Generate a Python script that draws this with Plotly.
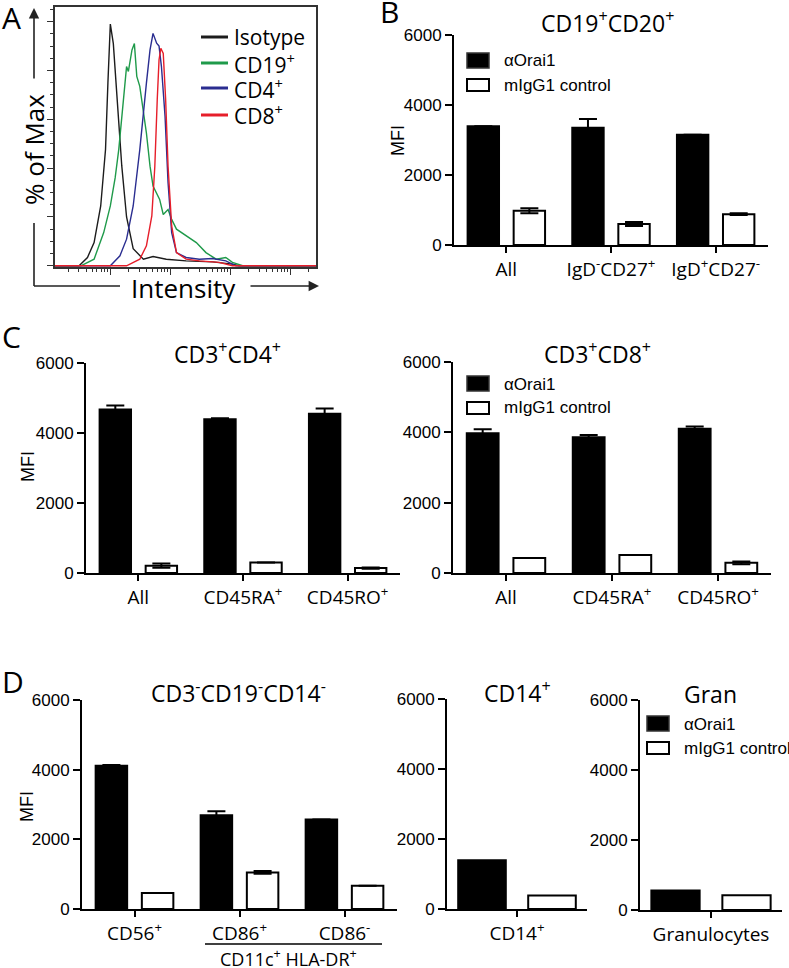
import numpy as np
import plotly.graph_objects as go

W, H = 789, 968
TITLE_FONT = 'Open Sans'
NUM_FONT = 'Liberation Sans'

# ---- panel A: histogram (x in log10 intensity, y in % of max) ----
iso_x = [1.08, 1.48, 1.62, 1.73, 1.84, 1.92, 1.96, 2.0, 2.05, 2.11, 2.19, 2.27, 2.38, 2.55, 2.71, 2.93, 3.26, 3.70, 4.03, 4.14, 5.42]
iso_y = [0, 0, 3.4, 9.5, 24.5, 47.6, 75, 99, 91, 68, 41, 20, 7, 2.7, 3.8, 2.7, 2.0, 1.6, 0.7, 0, 0]
cd19_x = [1.08, 1.51, 1.73, 1.89, 2.0, 2.08, 2.14, 2.22, 2.27, 2.30, 2.36, 2.40, 2.44, 2.49, 2.55, 2.60, 2.66, 2.71, 2.82, 2.88, 2.96, 3.02, 3.10, 3.26, 3.43, 3.59, 3.76, 3.92, 4.03, 4.20, 5.42]
cd19_y = [0, 0, 2.7, 13.6, 24.5, 36, 47.6, 68, 81.6, 79.6, 88.4, 91, 77.6, 73.5, 64, 54.4, 40.8, 32.7, 27.2, 21, 23, 19, 15, 12.2, 9.5, 5.4, 2.7, 3.4, 1.4, 0, 0]
cd4_x = [1.08, 2.0, 2.16, 2.27, 2.38, 2.49, 2.60, 2.66, 2.71, 2.77, 2.81, 2.85, 2.91, 2.96, 3.02, 3.10, 3.26, 3.48, 3.70, 3.92, 4.09, 5.42]
cd4_y = [0, 0, 4.1, 10.9, 24.5, 47.6, 74.8, 88.4, 95.2, 91.2, 90, 81.6, 61.2, 34, 13.6, 5.4, 3.4, 2.7, 3.0, 2.0, 0, 0]
cd8_x = [1.08, 2.27, 2.49, 2.60, 2.69, 2.74, 2.78, 2.81, 2.84, 2.88, 2.92, 2.96, 3.02, 3.10, 3.26, 3.48, 3.81, 4.03, 5.42]
cd8_y = [0, 0, 2.7, 8.2, 20.4, 40.8, 68, 84.4, 89.1, 87, 68, 40.8, 16.3, 5.4, 2.7, 2.0, 1.4, 0, 0]

# ---- panel B ----
b_cats = ['All', 'IgD<sup>-</sup>CD27<sup>+</sup>', 'IgD<sup>+</sup>CD27<sup>-</sup>']
b_orai = [3390, 3350, 3150]
b_orai_err = [0, 250, 0]
b_igg = [980, 600, 880]
b_igg_err = [70, 60, 25]

# ---- panel C ----
c_cats = ['All', 'CD45RA<sup>+</sup>', 'CD45RO<sup>+</sup>']
c4_orai = [4670, 4390, 4550]
c4_orai_err = [115, 30, 150]
c4_igg = [210, 300, 140]
c4_igg_err = [60, 0, 20]
c8_orai = [3975, 3860, 4105]
c8_orai_err = [110, 65, 60]
c8_igg = [430, 510, 290]
c8_igg_err = [0, 0, 40]

# ---- panel D ----
d_cats = ['CD56<sup>+</sup>', 'CD86<sup>+</sup>', 'CD86<sup>-</sup>']
d_orai = [4110, 2690, 2570]
d_orai_err = [25, 115, 0]
d_igg = [460, 1050, 670]
d_igg_err = [0, 40, 0]
mono_cats = ['CD14<sup>+</sup>']
mono_orai = [1395]
mono_igg = [385]
gran_cats = ['Granulocytes']
gran_orai = [555]
gran_igg = [420]

HIST = [('Isotype', iso_x, iso_y, '#1c1c1c'),
        ('CD19<sup>+</sup>', cd19_x, cd19_y, '#1f9a4a'),
        ('CD4<sup>+</sup>', cd4_x, cd4_y, '#2a2d90'),
        ('CD8<sup>+</sup>', cd8_x, cd8_y, '#e61e2a')]


def px_x(p):
    return p / W


def px_y(p):
    return 1 - p / H


fig = go.Figure()

# histogram curves
for name, xs, ys, col in HIST:
    fig.add_trace(go.Scatter(x=10 ** np.array(xs), y=ys, mode='lines',
                             line=dict(color=col, width=1.4), showlegend=False,
                             xaxis='x', yaxis='y'))

# bar panels: (axis id, categories, orai, orai err, igg, igg err, narrow)
panels = [
    (2, b_cats, b_orai, b_orai_err, b_igg, b_igg_err, False),
    (3, c_cats, c4_orai, c4_orai_err, c4_igg, c4_igg_err, False),
    (4, c_cats, c8_orai, c8_orai_err, c8_igg, c8_igg_err, False),
    (5, d_cats, d_orai, d_orai_err, d_igg, d_igg_err, False),
    (6, mono_cats, mono_orai, [0], mono_igg, [0], True),
    (7, gran_cats, gran_orai, [0], gran_igg, [0], True),
]

for ax, cats, orai, orai_err, igg, igg_err, narrow in panels:
    w = 0.34 if narrow else 0.3
    off_b = -0.42 if narrow else -0.37
    off_w = 0.08 if narrow else 0.07
    fig.add_trace(go.Bar(x=cats, y=orai, width=w, offset=off_b,
                         marker=dict(color='black', line=dict(color='black', width=2)),
                         error_y=dict(type='data', array=orai_err, visible=any(orai_err),
                                      color='black', thickness=2, width=9),
                         showlegend=False, xaxis=f'x{ax}', yaxis=f'y{ax}'))
    fig.add_trace(go.Bar(x=cats, y=igg, width=w, offset=off_w,
                         marker=dict(color='white', line=dict(color='black', width=2)),
                         error_y=dict(type='data', array=igg_err, visible=any(igg_err),
                                      color='black', thickness=2, width=9),
                         showlegend=False, xaxis=f'x{ax}', yaxis=f'y{ax}'))

layout = dict(
    template='none',
    width=W, height=H, margin=dict(l=0, r=0, t=0, b=0, pad=0),
    paper_bgcolor='white', plot_bgcolor='white',
    font=dict(family=NUM_FONT, color='black'),
    barmode='overlay', showlegend=False,
)

# panel A axes
layout['xaxis'] = dict(type='log', range=[1.08, 5.42], domain=[px_x(55), px_x(316)],
                       showline=True, mirror=True, linecolor='#333', linewidth=1.5,
                       ticks='outside', ticklen=6, tickcolor='#333', dtick=1,
                       minor=dict(ticks='outside', ticklen=3, tickcolor='#333', showgrid=False),
                       showticklabels=False, showgrid=False, zeroline=False, anchor='y',
                       automargin=False)
layout['yaxis'] = dict(range=[-0.5, 106], domain=[px_y(267), px_y(7)],
                       showline=True, mirror=True, linecolor='#333', linewidth=1.5,
                       ticks='outside', ticklen=6, tickcolor='#333', dtick=20,
                       minor=dict(ticks='outside', ticklen=3, tickcolor='#333', dtick=5, showgrid=False),
                       showticklabels=False, showgrid=False, zeroline=False, anchor='x',
                       automargin=False)

# bar panel axes: (x0, x1, top, bottom)
boxes = {2: (454, 768, 35, 245), 3: (86, 400, 363, 573), 4: (453, 771, 362, 573),
         5: (82, 397, 700, 909), 6: (447, 587, 699, 909), 7: (640, 782, 700, 910)}
for ax, (x0, x1, top, bot) in boxes.items():
    ncat = 1 if ax >= 6 else 3
    layout[f'xaxis{ax}'] = dict(type='category', range=[-0.5, ncat - 0.5],
                                domain=[px_x(x0), px_x(x1)], anchor=f'y{ax}',
                                showline=True, linecolor='black', linewidth=2,
                                ticks='outside', ticklen=6, tickwidth=2, tickcolor='black',
                                tickfont=dict(family=TITLE_FONT, size=19),
                                showgrid=False, zeroline=False, automargin=False)
    layout[f'yaxis{ax}'] = dict(range=[0, 6000], domain=[px_y(bot), px_y(top)], anchor=f'x{ax}',
                                tickvals=[0, 2000, 4000, 6000],
                                showline=True, linecolor='black', linewidth=2,
                                ticks='outside', ticklen=7, tickwidth=2, tickcolor='black',
                                tickfont=dict(family=NUM_FONT, size=17),
                                showgrid=False, zeroline=False, automargin=False)

fig.update_layout(**layout)

ann = []
shapes = []


def text(x, y, s, size, family=TITLE_FONT, xanchor='center', angle=0):
    ann.append(dict(x=px_x(x), y=px_y(y), xref='paper', yref='paper', text=s,
                    showarrow=False, xanchor=xanchor, yanchor='middle', textangle=angle,
                    font=dict(family=family, size=size, color='black')))


# panel letters
text(0, 18, 'A', 30, xanchor='left')
text(378, 12, 'B', 30, xanchor='left')
text(0, 337, 'C', 30, xanchor='left')
text(0, 681, 'D', 30, xanchor='left')

# panel titles
text(607, 22, 'CD19<sup>+</sup>CD20<sup>+</sup>', 23)
text(228, 353, 'CD3<sup>+</sup>CD4<sup>+</sup>', 23)
text(597, 353, 'CD3<sup>+</sup>CD8<sup>+</sup>', 23)
text(238, 692, 'CD3<sup>-</sup>CD19<sup>-</sup>CD14<sup>-</sup>', 23)
text(517, 692, 'CD14<sup>+</sup>', 23)
text(710, 694, 'Gran', 23)

# MFI labels
text(398, 140, 'MFI', 18, family=NUM_FONT, angle=-90)
text(28, 467, 'MFI', 18, family=NUM_FONT, angle=-90)
text(27, 807, 'MFI', 18, family=NUM_FONT, angle=-90)

# panel A axis labels and arrows
text(34, 150, '% of Max', 26, angle=-90)
text(183, 288, 'Intensity', 26)
ann.append(dict(x=px_x(34), y=px_y(8), xref='paper', yref='paper', text='', showarrow=True,
                ax=0, ay=72, arrowhead=2, arrowsize=1.3, arrowwidth=1.6, arrowcolor='#222'))
ann.append(dict(x=px_x(319), y=px_y(286), xref='paper', yref='paper', text='', showarrow=True,
                ax=-70, ay=0, arrowhead=2, arrowsize=1.3, arrowwidth=1.6, arrowcolor='#222'))
shapes.append(dict(type='line', xref='paper', yref='paper', x0=px_x(34), x1=px_x(34),
                   y0=px_y(223), y1=px_y(286), line=dict(color='#222', width=1.6)))
shapes.append(dict(type='line', xref='paper', yref='paper', x0=px_x(34), x1=px_x(120),
                   y0=px_y(286), y1=px_y(286), line=dict(color='#222', width=1.6)))

# panel A legend
for i, (name, _, _, col) in enumerate(HIST):
    yy = [37, 63, 88, 115][i]
    shapes.append(dict(type='line', xref='paper', yref='paper', x0=px_x(201), x1=px_x(228),
                       y0=px_y(yy), y1=px_y(yy), line=dict(color=col, width=3)))
    text(232, yy, name, 21, xanchor='left')

# bar legends
for lx, ly in [(467, 53), (467, 376), (647, 716)]:
    shapes.append(dict(type='rect', xref='paper', yref='paper', x0=px_x(lx), x1=px_x(lx + 22),
                       y0=px_y(ly + 15), y1=px_y(ly), fillcolor='black',
                       line=dict(color='#333', width=1.5)))
    text(lx + 35, ly + 8, '\u03b1Orai1', 17, family=NUM_FONT, xanchor='left')
    shapes.append(dict(type='rect', xref='paper', yref='paper', x0=px_x(lx), x1=px_x(lx + 22),
                       y0=px_y(ly + 38), y1=px_y(ly + 26), fillcolor='white',
                       line=dict(color='black', width=2)))
    text(lx + 35, ly + 32, 'mIgG1 control', 17, family=NUM_FONT, xanchor='left')

# CD11c+ HLA-DR+ bracket
shapes.append(dict(type='line', xref='paper', yref='paper', x0=px_x(205), x1=px_x(382),
                   y0=px_y(944), y1=px_y(944), line=dict(color='black', width=1.5)))
text(288, 958, 'CD11c<sup>+</sup> HLA-DR<sup>+</sup>', 18)

fig.update_layout(annotations=ann, shapes=shapes)
fig.write_html('out.html', config={'displayModeBar': False},
               post_script="document.body.style.margin='0px';")
